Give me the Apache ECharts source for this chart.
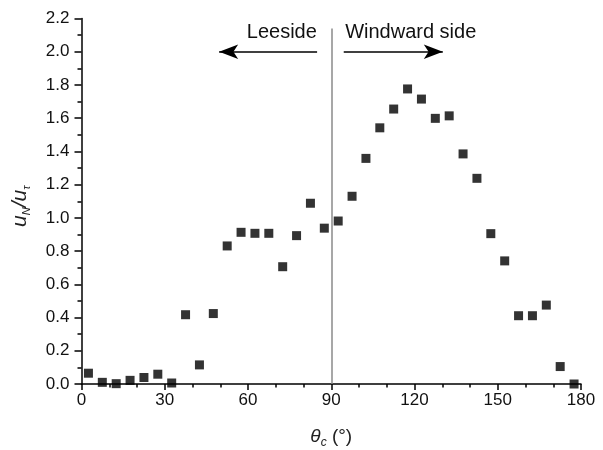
<!DOCTYPE html>
<html>
<head>
<meta charset="utf-8">
<script src="https://cdn.jsdelivr.net/npm/echarts@6/dist/echarts.min.js"></script>
<style>html,body{margin:0;padding:0;background:#fff;}#c{width:603px;height:450px;}</style>
</head>
<body>
<div id="c"></div>
<script>
const thetaValues = [2.5, 7.5, 12.5, 17.5, 22.5, 27.5, 32.5, 37.5, 42.5, 47.5, 52.5, 57.5, 62.5, 67.5, 72.5, 77.5, 82.5, 87.5,
  92.5, 97.5, 102.5, 107.5, 112.5, 117.5, 122.5, 127.5, 132.5, 137.5, 142.5, 147.5, 152.5, 157.5, 162.5, 167.5, 172.5, 177.5];
const ratioValues = [0.065, 0.01, 0.002, 0.022, 0.039, 0.059, 0.006, 0.417, 0.115, 0.424, 0.831, 0.913, 0.907, 0.907, 0.706, 0.893, 1.088, 0.938,
  0.981, 1.13, 1.358, 1.542, 1.655, 1.776, 1.715, 1.599, 1.614, 1.385, 1.238, 0.905, 0.741, 0.411, 0.411, 0.475, 0.105, 0.0];
const xTicks = {min: 0, max: 180, interval: 30};
const yTicks = {min: 0, max: 2.2, interval: 0.2};
const dividerAngle = 90;
const dividerTop = 2.14;
const leeArrow = [84.9, 49.6];
const windArrow = [94.5, 130.2];
const arrowLevel = 2.0;
const textLevel = 2.115;
const leeText = {label: 'Leeside', x: 84.8};
const windText = {label: 'Windward side', x: 95.0};

const FONT = '"Liberation Sans", Arial, sans-serif';
const chart = echarts.init(document.getElementById('c'), null, {renderer: 'canvas'});
const points = thetaValues.map((t, i) => [t, ratioValues[i]]);

chart.setOption({
  animation: false,
  backgroundColor: '#fff',
  grid: {left: 81.5, right: 22, top: 18.5, bottom: 66, containLabel: false, outerBoundsMode: 'none'},
  xAxis: {
    type: 'value', min: xTicks.min, max: xTicks.max, interval: xTicks.interval,
    axisLine: {show: true, onZero: false, lineStyle: {color: '#000', width: 1.5}},
    axisTick: {show: true, inside: false, length: 6, lineStyle: {color: '#000', width: 1.5}},
    minorTick: {show: true, splitNumber: 3, length: 3.5, lineStyle: {color: '#000', width: 1.5}},
    splitLine: {show: false},
    axisLabel: {color: '#111', fontSize: 17, fontFamily: FONT, margin: 8},
    name: '{i|θ}{sub|c}{n| (°)}',
    nameLocation: 'middle', nameGap: 41,
    nameTextStyle: {
      fontFamily: FONT,
      rich: {
        i: {fontSize: 19, fontStyle: 'italic', fontFamily: FONT, color: '#222', lineHeight: 24, verticalAlign: 'middle'},
        sub: {fontSize: 12, fontStyle: 'italic', fontFamily: FONT, color: '#222', lineHeight: 12, verticalAlign: 'bottom'},
        n: {fontSize: 19, fontFamily: FONT, color: '#222', lineHeight: 24, verticalAlign: 'middle'}
      }
    }
  },
  yAxis: {
    type: 'value', min: yTicks.min, max: yTicks.max, interval: yTicks.interval,
    axisLine: {show: true, onZero: false, lineStyle: {color: '#000', width: 1.5}},
    axisTick: {show: true, inside: false, length: 7, lineStyle: {color: '#000', width: 1.5}},
    minorTick: {show: true, splitNumber: 2, length: 4, lineStyle: {color: '#000', width: 1.5}},
    splitLine: {show: false},
    axisLabel: {color: '#111', fontSize: 17, fontFamily: FONT, margin: 12, formatter: v => v.toFixed(1)},
    name: '{i|u}{sub|N}{n|/}{i|u}{sub|τ}',
    nameLocation: 'middle', nameGap: 49, nameRotate: 90,
    nameTextStyle: {
      fontFamily: FONT,
      padding: [0, 10, 0, 0],
      rich: {
        i: {fontSize: 21, fontStyle: 'italic', fontFamily: FONT, color: '#222', lineHeight: 24, verticalAlign: 'middle'},
        sub: {fontSize: 11, fontStyle: 'italic', fontFamily: FONT, color: '#222', lineHeight: 11, verticalAlign: 'bottom'},
        n: {fontSize: 21, fontStyle: 'italic', fontFamily: FONT, color: '#222', lineHeight: 24, verticalAlign: 'middle'}
      }
    }
  },
  series: [{
    type: 'scatter',
    data: points,
    symbol: 'rect',
    symbolSize: 9,
    itemStyle: {color: '#000'},
    silent: true,
    markLine: {
      silent: true,
      animation: false,
      symbol: ['none', 'none'],
      label: {show: false},
      data: [
        [{coord: [dividerAngle, 0], lineStyle: {color: '#8a8a8a', width: 1.5, type: 'solid'}}, {coord: [dividerAngle, dividerTop]}],
        [{coord: [leeArrow[0], arrowLevel], symbol: 'none', lineStyle: {color: '#000', width: 1.5, type: 'solid'}},
         {coord: [leeArrow[1], arrowLevel], symbol: 'arrow', symbolSize: [11, 19]}],
        [{coord: [windArrow[0], arrowLevel], symbol: 'none', lineStyle: {color: '#000', width: 1.5, type: 'solid'}},
         {coord: [windArrow[1], arrowLevel], symbol: 'arrow', symbolSize: [11, 19]}]
      ]
    },
    markPoint: {
      silent: true,
      animation: false,
      symbol: 'circle',
      symbolSize: 0,
      data: [
        {coord: [leeText.x, textLevel], label: {show: true, formatter: leeText.label, position: [0, 0], align: 'right', verticalAlign: 'middle', color: '#111', fontSize: 20, fontFamily: FONT}},
        {coord: [windText.x, textLevel], label: {show: true, formatter: windText.label, position: [0, 0], align: 'left', verticalAlign: 'middle', color: '#111', fontSize: 20, fontFamily: FONT}}
      ]
    }
  }]
});
</script>
</body>
</html>
